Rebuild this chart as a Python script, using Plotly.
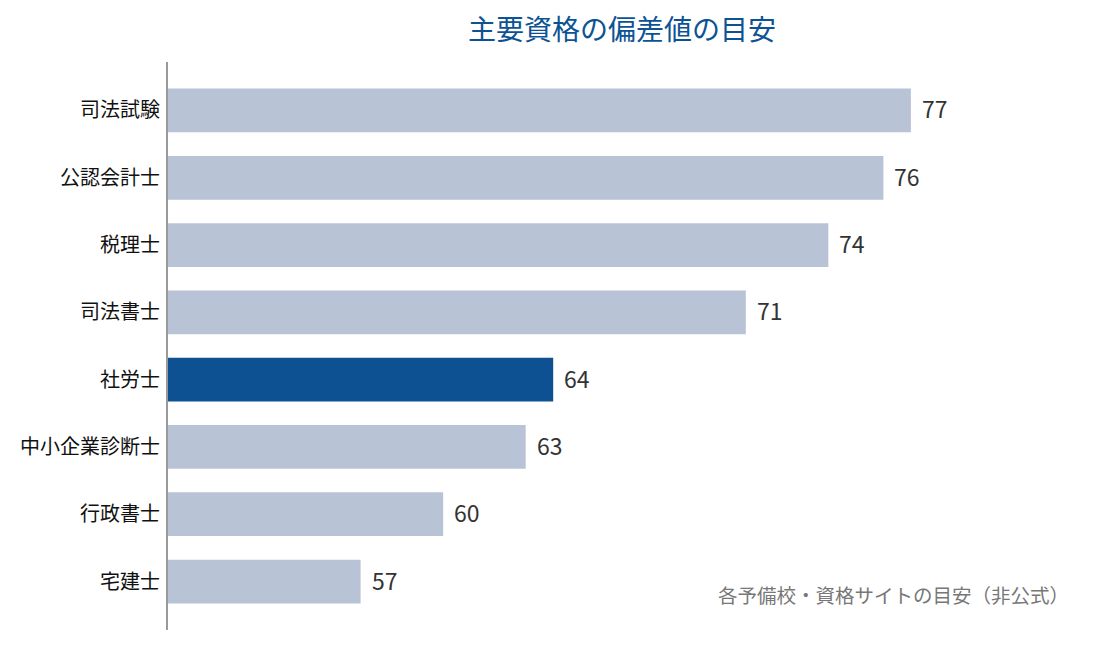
import plotly.graph_objects as go

# 資格ごとの偏差値（目安）
categories = ["司法試験", "公認会計士", "税理士", "司法書士", "社労士", "中小企業診断士", "行政書士", "宅建士"]
scores = [77, 76, 74, 71, 64, 63, 60, 57]
highlight = "社労士"

BASE = 50
bar_colors = ["#0e5192" if c == highlight else "#b8c4d6" for c in categories]

fig = go.Figure(go.Bar(
    y=categories,
    x=[s - BASE for s in scores],
    base=BASE,
    orientation="h",
    marker=dict(color=bar_colors, line=dict(width=0)),
    hoverinfo="skip",
))

# value labels just right of each bar
for c, s in zip(categories, scores):
    fig.add_annotation(
        x=s, y=c, text=str(s),
        xanchor="left", yanchor="middle", xshift=9, yshift=2,
        showarrow=False,
        font=dict(size=23, color="#333333"),
    )

fig.update_layout(
    width=1094, height=645,
    margin=dict(l=160, r=26, t=54, b=23),
    paper_bgcolor="white",
    plot_bgcolor="white",
    font=dict(family="Noto Sans CJK JP", color="#111111"),
    title=dict(
        text="主要資格の偏差値の目安",
        x=0.5, xref="paper", xanchor="center",
        y=0.965, yanchor="middle",
        font=dict(size=28, color="#0d5394"),
    ),
    bargap=0.35,
    showlegend=False,
)

fig.update_xaxes(range=[BASE, 83], visible=False)
fig.update_yaxes(
    range=[7.72, -0.72],
    showline=True, linecolor="#999999", linewidth=2,
    showgrid=False, zeroline=False,
    ticks="outside", ticklen=2, tickcolor="rgba(0,0,0,0)",
    tickfont=dict(size=20, color="#111111"),
)

fig.add_annotation(
    text="各予備校・資格サイトの目安（非公式）",
    xref="paper", yref="paper",
    x=0.995, y=0.063, xanchor="right", yanchor="middle",
    showarrow=False,
    font=dict(size=19.5, color="#777777"),
)

fig.write_html("out.html")
